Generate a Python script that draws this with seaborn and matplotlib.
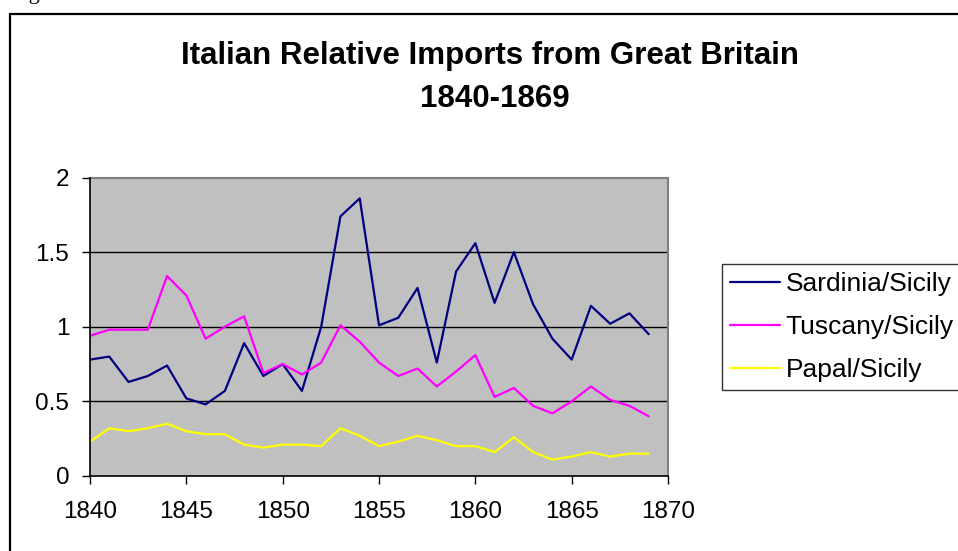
import numpy as np
import pandas as pd
import matplotlib
matplotlib.use("Agg")
import matplotlib.pyplot as plt
from matplotlib.patches import Rectangle
from matplotlib.lines import Line2D
import seaborn as sns

years = list(range(1840, 1870))
sardinia = [0.78, 0.80, 0.63, 0.67, 0.74, 0.52, 0.48, 0.57, 0.89, 0.67,
            0.75, 0.57, 1.00, 1.74, 1.86, 1.01, 1.06, 1.26, 0.76, 1.37,
            1.56, 1.16, 1.50, 1.15, 0.92, 0.78, 1.14, 1.02, 1.09, 0.95]
tuscany = [0.94, 0.98, 0.98, 0.98, 1.34, 1.21, 0.92, 1.00, 1.07, 0.69,
           0.75, 0.68, 0.76, 1.01, 0.90, 0.76, 0.67, 0.72, 0.60, 0.70,
           0.81, 0.53, 0.59, 0.47, 0.42, 0.50, 0.60, 0.51, 0.47, 0.40]
papal = [0.23, 0.32, 0.30, 0.32, 0.35, 0.30, 0.28, 0.28, 0.21, 0.19,
         0.21, 0.21, 0.20, 0.32, 0.27, 0.20, 0.23, 0.27, 0.24, 0.20,
         0.20, 0.16, 0.26, 0.16, 0.11, 0.13, 0.16, 0.13, 0.15, 0.15]
series_names = ["Sardinia/Sicily", "Tuscany/Sicily", "Papal/Sicily"]
colors = ["#000080", "#FF00FF", "#FFFF00"]
title_line1 = "Italian Relative Imports from Great Britain"
title_line2 = "1840-1869"
xticks = [1840, 1845, 1850, 1855, 1860, 1865, 1870]
yticks = [0, 0.5, 1, 1.5, 2]
ytick_labels = ["0", "0.5", "1", "1.5", "2"]

df = pd.DataFrame({
    "Year": years * 3,
    "Value": sardinia + tuscany + papal,
    "Series": [series_names[0]] * len(years) + [series_names[1]] * len(years)
              + [series_names[2]] * len(years),
})

sns.set_style("white")
plt.rcParams["font.family"] = ["Liberation Sans", "DejaVu Sans"]
plt.rcParams["text.color"] = "black"

W, H = 958, 551
fig = plt.figure(figsize=(W / 100, H / 100), dpi=100)
fig.patch.set_facecolor("white")

def fx(px):
    return px / W

def fy(py):
    return (H - py) / H

ax = fig.add_axes([fx(90), fy(476), fx(668) - fx(90), fy(177.5) - fy(476)])
ax.set_facecolor("#C0C0C0")

sns.lineplot(data=df, x="Year", y="Value", hue="Series", palette=colors,
             hue_order=series_names, linewidth=1.6, ax=ax, legend=False,
             zorder=3)

ax.set_xlim(1840, 1870)
ax.set_ylim(0, 2)
ax.set_xticks(xticks)
ax.set_xticklabels([str(t) for t in xticks])
ax.set_yticks(yticks)
ax.set_yticklabels(ytick_labels)
ax.set_xlabel("")
ax.set_ylabel("")
for y in [0.5, 1, 1.5]:
    ax.axhline(y, color="black", linewidth=1.0, zorder=1)
ax.tick_params(axis="both", direction="out", length=6, width=1,
               color="black", labelsize=17.5, labelcolor="black")
ax.tick_params(axis="x", pad=12)
ax.tick_params(axis="y", pad=9)
ax.tick_params(axis="both", left=True, bottom=True)
for s in ["top", "right"]:
    ax.spines[s].set_color("#808080")
    ax.spines[s].set_linewidth(1.5)
for s in ["left", "bottom"]:
    ax.spines[s].set_color("black")
    ax.spines[s].set_linewidth(1.2)
    ax.spines[s].set_zorder(4)

# legend
handles = [Line2D([0], [0], color=c, linewidth=1.6) for c in colors]
leg = fig.legend(handles, series_names, loc="upper left",
                 bbox_to_anchor=(fx(722), fy(264)), bbox_transform=fig.transFigure,
                 fontsize=19, frameon=True, fancybox=False, shadow=False,
                 handlelength=1.9, handletextpad=0.22, labelspacing=0.72,
                 borderpad=0.3, borderaxespad=0)
leg.get_frame().set_edgecolor("black")
leg.get_frame().set_linewidth(1.0)
for t in leg.get_texts():
    t.set_color("black")

# titles
fig.text(fx(490), fy(64), title_line1, ha="center", va="baseline",
         fontsize=22.5, fontweight="bold", color="black")
fig.text(fx(495), fy(107), title_line2, ha="center", va="baseline",
         fontsize=22.5, fontweight="bold", color="black")

# outer chart border
fig.add_artist(Rectangle((fx(10), fy(570)), fx(980) - fx(10), fy(14) - fy(570),
                         transform=fig.transFigure, fill=False,
                         edgecolor="black", linewidth=1.6))

# cropped caption fragment above the chart
fig.text(fx(10), fy(-1), "Figure", ha="left", va="baseline", fontsize=16,
         family=["Liberation Serif", "DejaVu Serif"], color="black")

fig.savefig("out.png", dpi=100)
